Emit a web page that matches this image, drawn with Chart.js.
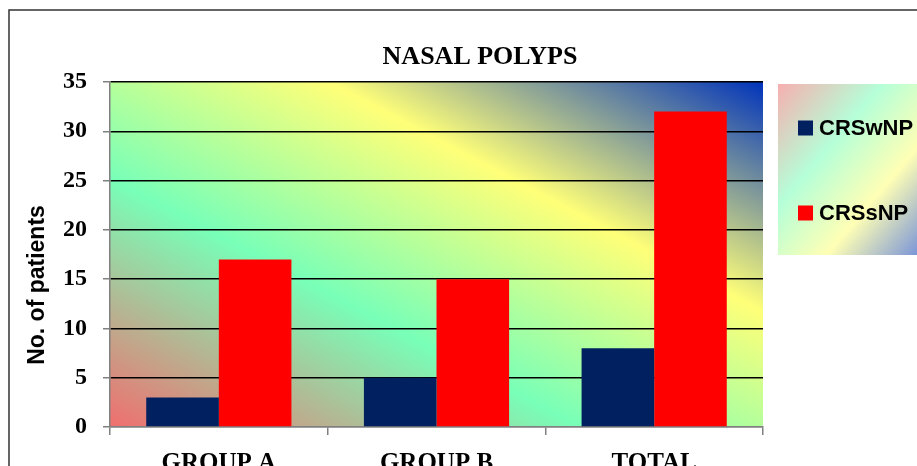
<!DOCTYPE html>
<html lang="en">
<head>
    <meta charset="UTF-8">
    <title>Nasal Polyps</title>
    <script src="https://cdn.jsdelivr.net/npm/chart.js"></script>
    <style>
        body {
            margin: 0;
            padding: 0;
            background: #fff;
        }
        #chart {
            display: block;
        }
    </style>
</head>
<body>
    <canvas id="chart" width="917" height="466"></canvas>

    <script>
        const categories = ['GROUP A', 'GROUP B', 'TOTAL'];
        const withPolyps = [3, 5, 8];
        const withoutPolyps = [17, 15, 32];
        const seriesNames = ['CRSwNP', 'CRSsNP'];
        const yMax = 35;
        const yStep = 5;

        const chartTitle = 'NASAL POLYPS';
        const yTitle = 'No. of patients';

        // gradient stops, bottom-left -> top-right
        const fillStops = [
            [0, '#f06e6e'],
            [0.36, '#78ffb8'],
            [0.667, '#ffff78'],
            [1, '#0033bb']
        ];

        // frame, background gradient, title, legend
        const decorations = {
            id: 'decorations',
            beforeDraw(chart) {
                const ctx = chart.ctx;
                const a = chart.chartArea;
                ctx.save();
                ctx.fillStyle = '#fff';
                ctx.fillRect(0, 0, chart.width, chart.height);

                ctx.strokeStyle = '#333';
                ctx.lineWidth = 1.5;
                ctx.strokeRect(9, 10, 1000, 1000);

                // plot area gradient, diagonal in box coordinates
                ctx.translate(a.left, a.top);
                ctx.scale(a.right - a.left, a.bottom - a.top);
                let g = ctx.createLinearGradient(0, 1, 1, 0);
                fillStops.forEach(s => g.addColorStop(s[0], s[1]));
                ctx.fillStyle = g;
                ctx.fillRect(0, 0, 1, 1);
                ctx.restore();
            },
            afterDraw(chart) {
                const ctx = chart.ctx;
                ctx.save();

                ctx.fillStyle = '#000';
                ctx.font = 'bold 26px "Liberation Serif"';
                ctx.textAlign = 'center';
                ctx.textBaseline = 'alphabetic';
                ctx.fillText(chartTitle, 480, 64);

                ctx.save();
                ctx.translate(44, 285);
                ctx.rotate(-Math.PI / 2);
                ctx.font = 'bold 23px "Liberation Sans"';
                ctx.fillText(yTitle, 0, 0);
                ctx.restore();

                // legend box
                const lx = 778, ly = 84, lw = 145, lh = 171;
                ctx.save();
                ctx.translate(lx, ly);
                ctx.scale(lw, lh);
                let g = ctx.createLinearGradient(0, 0, 1, 1);
                fillStops.forEach(s => g.addColorStop(s[0], s[1]));
                ctx.fillStyle = '#fff';
                ctx.fillRect(0, 0, 1, 1);
                ctx.globalAlpha = 0.55;
                ctx.fillStyle = g;
                ctx.fillRect(0, 0, 1, 1);
                ctx.restore();

                ctx.font = 'bold 22px "Liberation Sans"';
                ctx.textAlign = 'left';
                ctx.textBaseline = 'middle';
                chart.data.datasets.forEach((ds, i) => {
                    const y = 128 + i * 85;
                    ctx.fillStyle = ds.backgroundColor;
                    ctx.fillRect(798, y - 7.5, 15, 15);
                    ctx.fillStyle = '#000';
                    ctx.fillText(ds.label, 819, y + 1);
                });
                ctx.restore();
            }
        };

        new Chart(document.getElementById('chart').getContext('2d'), {
            type: 'bar',
            data: {
                labels: categories,
                datasets: [{
                    label: seriesNames[0],
                    data: withPolyps,
                    backgroundColor: '#002060'
                }, {
                    label: seriesNames[1],
                    data: withoutPolyps,
                    backgroundColor: '#ff0000'
                }]
            },
            options: {
                responsive: false,
                animation: false,
                layout: {
                    padding: { left: 0, right: 154, top: 82, bottom: 0 }
                },
                datasets: {
                    bar: { categoryPercentage: 0.667, barPercentage: 1.0 }
                },
                plugins: {
                    legend: { display: false },
                    title: { display: false },
                    tooltip: { enabled: false }
                },
                scales: {
                    x: {
                        grid: {
                            offset: true,
                            drawOnChartArea: false,
                            tickLength: 8,
                            color: '#808080',
                            lineWidth: 1.5
                        },
                        border: { color: '#808080', width: 1.5 },
                        ticks: {
                            color: '#000',
                            padding: 14,
                            maxRotation: 0,
                            font: { family: 'Liberation Serif', size: 25, weight: 'bold' }
                        },
                        afterFit: s => { s.height = 39; }
                    },
                    y: {
                        min: 0,
                        max: yMax,
                        grid: {
                            color: c => (c.tick && c.tick.value === 0) ? '#808080' : '#000',
                            lineWidth: 1.5,
                            tickColor: '#808080',
                            tickLength: 7
                        },
                        border: { color: '#808080', width: 1.5 },
                        ticks: {
                            stepSize: yStep,
                            color: '#000',
                            padding: 16,
                            font: { family: 'Liberation Serif', size: 24, weight: 'bold' }
                        },
                        afterFit: s => { s.width = 110; }
                    }
                }
            },
            plugins: [decorations]
        });
    </script>
</body>
</html>
